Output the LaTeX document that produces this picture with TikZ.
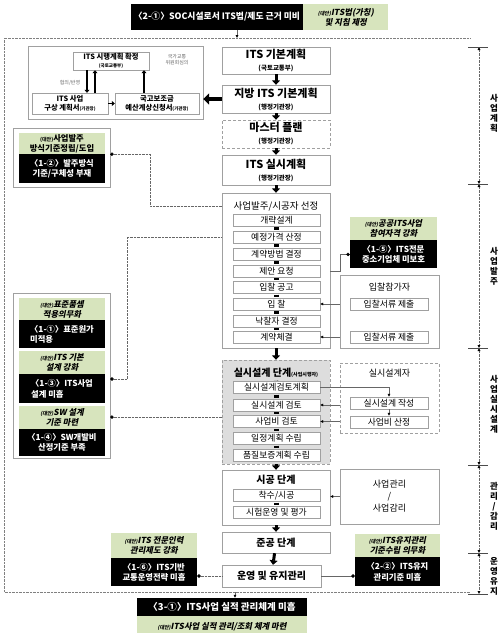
\documentclass[tikz,border=0pt]{standalone}
\usepackage{fontspec}
\setmainfont{Noto Sans CJK KR}
\newfontfamily\slfont{Noto Sans CJK KR}[FakeSlant=0.2]
\usetikzlibrary{arrows.meta,positioning}

\definecolor{edgegray}{HTML}{A0A0A0}
\definecolor{altgreen}{HTML}{D7E4BD}
\definecolor{shadegray}{HTML}{DDDDDD}

\newcommand{\sz}[2]{\fontsize{#1}{#2}\selectfont}
\newcommand{\alttag}{{\sz{5}{6}(대안)}}

\tikzset{
  box/.style={draw=edgegray, fill=white, align=center, inner sep=0pt, minimum width=108pt},
  panel/.style={draw=edgegray, inner sep=0pt},
  stepbox/.style={draw=edgegray, fill=white, inner sep=0pt, minimum width=87pt, minimum height=12pt, font=\sz{8.8}{9}},
  remedy/.style={fill=altgreen, align=center, inner sep=0pt, font=\slfont\bfseries\sz{8.3}{10}},
  issue/.style={fill=black, text=white, align=center, inner sep=0pt, font=\bfseries\sz{8.3}{10.5}},
  note/.style={align=center, text=black!60, font=\sz{5}{6}},
  phasetag/.style={align=center, font=\bfseries\sz{8.5}{10}},
  fat/.style={line width=3pt, -{Triangle[length=4.5pt,width=8pt]}},
  slim/.style={line width=1.8pt, -{Triangle[length=3pt,width=5pt]}},
  joint/.style={line width=5pt, shorten <=1pt, shorten >=1pt},
  link/.style={draw=black!60, -{Latex[length=3pt,width=3pt,color=black]}},
  tie/.style={draw=black!60, densely dotted, {Circle[length=3.5pt,color=black]}-},
  span/.style={draw=black!60, densely dotted, {Latex[length=3pt,width=3pt,color=black]}-{Latex[length=3pt,width=3pt,color=black]}}
}

\begin{document}
\begin{tikzpicture}[x=1pt, y=-1pt, font=\sz{8}{10}]
  \useasboundingbox (0,0) rectangle (504,633);
  \clip (0,0) rectangle (504,633);

  % outer frame
  \draw[black!50, densely dotted] (470,38) -- (4,38) -- (4,592) -- (470,592);

  % law issue on top
  \node[issue, font=\bfseries\sz{8.8}{10}, minimum width=172pt, minimum height=26pt] (law) at (217,17) {〈2-①〉SOC시설로서 ITS법/제도 근거 미비};
  \node[remedy, minimum width=85pt, minimum height=26pt, right=0pt of law] (lawfix) {\alttag ITS법(가칭)\\및 지침 제정};
  \coordinate (intop) at (237,38);
  \draw[link] (law.south -| intop) -- (intop);

  % yearly plan block
  \node[panel, minimum width=175pt, minimum height=73pt] (plan) at (115.5,82.5) {};
  \node[box, minimum width=76pt, minimum height=18pt, font=\bfseries\sz{7.3}{8}] (confirm) at (111,61) {ITS 시행계획 확정\\{\sz{4.5}{5}(국토교통부)}};
  \node[note] (council) at (177,60) {국가교통\\위원회심의};
  \node[note] (consult) at (70,83) {협의/반영};
  \node[box, minimum width=76pt, minimum height=21pt, font=\bfseries\sz{7.3}{9}] (idea) at (70,103.5) {ITS 사업\\구상 계획서{\sz{4.5}{5}(기관장)}};
  \node[box, minimum width=84pt, minimum height=21pt, font=\bfseries\sz{7.3}{9}] (subsidy) at (157,103.5) {국고보조금\\예산계상신청서{\sz{4.5}{5}(기관장)}};
  \draw[slim] ([xshift=-24pt]confirm.south) -- ([xshift=-24pt]confirm.south |- idea.north);
  \draw[slim] ([xshift=-16pt]confirm.south |- idea.north) -- ([xshift=-16pt]confirm.south);
  \draw[slim] ([xshift=-13pt]subsidy.north) -- ([xshift=-13pt]subsidy.north |- confirm.south);
  \draw[slim] (idea.east) -- (subsidy.west);

  % main flow
  \node[box, minimum height=27pt, font=\bfseries\sz{11}{12}] (basic) at (276,60.5) {ITS 기본계획\\{\sz{6.5}{7}(국토교통부)}};
  \node[box, minimum height=28pt, font=\bfseries\sz{11}{12}] (local) at (276,99) {지방 ITS 기본계획\\{\sz{6.5}{7}(행정기관장)}};
  \node[box, densely dashed, minimum height=28pt, font=\bfseries\sz{11}{12}] (master) at (276,134) {마스터 플랜\\{\sz{6.5}{7}(행정기관장)}};
  \node[box, minimum height=30pt, font=\bfseries\sz{11}{12}] (exec) at (276,170) {ITS 실시계획\\{\sz{6.5}{7}(행정기관장)}};
  \draw[fat] (basic) -- (local);
  \draw[fat] (local) -- (master);
  \draw[fat] (master) -- (exec);
  \draw[line width=4pt, -{Triangle[length=6pt,width=11pt]}] (local.west) -- (local.west -| plan.east);

  % ordering stage
  \node[panel, minimum width=108pt, minimum height=155pt] (order) at (276,270.5) {};
  \node[font=\sz{9.5}{10}] (ordertitle) at (276,206) {사업발주/시공자 선정};
  \node[stepbox] (s1) at (276.5,220) {개략설계};
  \node[stepbox] (s2) at (276.5,237) {예정가격 산정};
  \node[stepbox] (s3) at (276.5,254) {계약방법 결정};
  \node[stepbox] (s4) at (276.5,271) {제안 요청};
  \node[stepbox] (s5) at (276.5,287.5) {입찰 공고};
  \node[stepbox] (s6) at (276.5,304) {입 찰};
  \node[stepbox] (s7) at (276.5,321) {낙찰자 결정};
  \node[stepbox] (s8) at (276.5,337) {계약체결};
  \draw[fat] (exec) -- (order);
  \draw[joint] (s1) -- (s2);
  \draw[joint] (s2) -- (s3);
  \draw[joint] (s3) -- (s4);
  \draw[joint] (s4) -- (s5);
  \draw[joint] (s5) -- (s6);
  \draw[joint] (s6) -- (s7);
  \draw[joint] (s7) -- (s8);

  % bidders
  \node[panel, minimum width=99pt, minimum height=73pt] (bidder) at (389.5,311.5) {};
  \node[font=\sz{9}{10}] (biddertitle) at (389.5,287) {입찰참가자};
  \node[stepbox, minimum width=78pt] (b1) at (389,304.5) {입찰서류 제출};
  \node[stepbox, minimum width=78pt] (b2) at (389,337) {입찰서류 제출};
  \draw[link] (bidder.west |- s6) -- (s6.east);
  \draw[link] (bidder.west |- s8) -- (s8.east);

  % detailed design stage
  \node[panel, fill=shadegray, densely dashed, minimum width=108pt, minimum height=104pt] (design) at (276,412) {};
  \node[font=\bfseries\sz{10}{10}] (designtitle) at (276,373) {실시설계 단계{\sz{5}{6}(사업시행자)}};
  \node[stepbox] (d1) at (276.5,387.5) {실시설계검토계획};
  \node[stepbox] (d2) at (276.5,405) {실시설계 검토};
  \node[stepbox] (d3) at (276.5,421.5) {사업비 검토};
  \node[stepbox] (d4) at (276.5,438.5) {일정계획 수립};
  \node[stepbox] (d5) at (276.5,455) {품질보증계획 수립};
  \draw[fat] (order) -- (design);
  \draw[joint] (designtitle) -- (d1);
  \draw[joint] (d1) -- (d2);
  \draw[joint] (d2) -- (d3);
  \draw[joint] (d3) -- (d4);
  \draw[joint] (d4) -- (d5);

  % designers
  \node[panel, densely dashed, minimum width=99pt, minimum height=70pt] (designer) at (389.5,398) {};
  \node[font=\sz{9}{10}] (designertitle) at (389.5,373) {실시설계자};
  \node[stepbox, minimum width=78pt] (w1) at (389,403) {실시설계 작성};
  \node[stepbox, minimum width=78pt] (w2) at (389,422) {사업비 산정};
  \draw[link] (d1.east) -| (w1.north);
  \draw[link] (w1) -- (w2);
  \draw[link] (designer.west |- d2) -- (d2.east);
  \draw[link] (designer.west |- d3) -- (d3.east);

  % construction, completion, operation
  \node[panel, minimum width=108pt, minimum height=55pt] (build) at (276,497.5) {};
  \node[font=\bfseries\sz{10}{10}] (buildtitle) at (276,480) {시공 단계};
  \node[stepbox] (c1) at (276.5,495.5) {착수/시공};
  \node[stepbox] (c2) at (276.5,512.5) {시험운영 및 평가};
  \draw[fat] (design) -- (build);
  \draw[joint] (c1) -- (c2);
  \node[box, minimum height=21pt, font=\bfseries\sz{10}{10}] (done) at (276,542.5) {준공 단계};
  \node[box, minimum width=99pt, minimum height=22pt, font=\bfseries\sz{10}{10}] (oper) at (271.5,576) {운영 및 유지관리};
  \draw[fat] (build) -- (done);
  \draw[fat] (done) -- (oper);
  \node[box, minimum width=99pt, minimum height=55pt, font=\sz{9}{12}] (mgmt) at (389.5,496.5) {사업관리\\/\\사업감리};
  \draw[link] (mgmt.west) -- (mgmt.west -| build.east);

  % issues on the right
  \node[remedy, minimum width=87pt, minimum height=23pt] (r15) at (393.5,228.5) {\alttag 공공ITS사업\\참여자격 강화};
  \node[issue, minimum width=87pt, minimum height=28pt, below=0pt of r15] (i15) {〈1-⑤〉ITS전문\\중소기업체 미보호};
  \draw[tie, solid] (i15.west) -- ++(-10,0) |- (s4 -| order.east);
  \node[remedy, minimum width=85pt, minimum height=23pt] (r22) at (397.5,545.5) {\alttag ITS유지관리\\기준수립 의무화};
  \node[issue, minimum width=85pt, minimum height=29pt, below=0pt of r22] (i22) {〈2-②〉ITS유지\\관리기준 미흡};
  \draw[tie, solid] (oper.east -| i22.west) -- (oper.east);

  % issues on the left
  \node[panel, minimum width=97pt, minimum height=59pt] (c12) at (61.5,157.5) {};
  \node[remedy, font=\bfseries\sz{8.3}{10}, minimum width=86pt, minimum height=21pt] (r12) at (62,143.5) {\alttag 사업발주\\방식기준정립/도입};
  \node[issue, minimum width=86pt, minimum height=29pt, below=0pt of r12] (i12) {〈1-②〉발주방식\\기준/구체성 부재};
  \draw[tie] (c12.east |- i12.north) -- ++(40,0) |- (ordertitle -| order.west);

  \node[panel, minimum width=97pt, minimum height=165pt] (c1) at (61.5,375.5) {};
  \node[remedy, minimum width=86pt, minimum height=22pt] (r11) at (62,309) {\alttag 표준품셈\\적용의무화};
  \node[issue, align=left, minimum width=86pt, minimum height=28pt, below=0pt of r11] (i11) {〈1-①〉표준원가\\미적용};
  \node[remedy, minimum width=86pt, minimum height=23pt, below=2pt of i11] (r13) {\alttag ITS 기본\\설계 강화};
  \node[issue, align=left, minimum width=86pt, minimum height=29pt, below=0pt of r13] (i13) {〈1-③〉ITS사업\\설계 미흡};
  \node[remedy, minimum width=86pt, minimum height=23pt, below=2pt of i13] (r14) {\alttag SW 설계\\기준 마련};
  \node[issue, minimum width=86pt, minimum height=27pt, below=0pt of r14] (i14) {〈1-④〉SW개발비\\산정기준 부족};
  \path (c1.east |- i13.north) ++(0,5) coordinate (k13);
  \draw[tie] (k13) -- ++(17,0) |- (s2 -| order.west);
  \draw[tie] (c1.east |- r14) -- (r14 -| design.west);

  \node[remedy, minimum width=86pt, minimum height=25pt] (r16) at (154,545.5) {\alttag ITS 전문인력\\관리제도 강화};
  \node[issue, minimum width=86pt, minimum height=28pt, below=0pt of r16] (i16) {〈1-⑥〉ITS기반\\교통운영전략 미흡};
  \draw[tie] (i16.east |- oper) -- (oper.west);

  % record issue below
  \node[issue, font=\bfseries\sz{9.5}{10}, minimum width=170pt, minimum height=18pt] (i31) at (222,607) {〈3-①〉ITS사업 실적 관리체계 미흡};
  \node[remedy, minimum width=170pt, minimum height=21pt, below=0pt of i31] (r31) {\alttag ITS사업 실적 관리/조회 체계 마련};
  \coordinate (inbot) at (235,592);
  \draw[link] (inbot) -- (inbot |- i31.north);

  % phase bracket
  \coordinate (t0) at (479,47);
  \coordinate (t1) at (479,184);
  \coordinate (t2) at (479,348);
  \coordinate (t3) at (479,465);
  \coordinate (t4) at (479,553);
  \coordinate (t5) at (479,594);
  \draw[span] (t0) -- (t1);
  \draw[span] (t1) -- (t2);
  \draw[span] (t2) -- (t3);
  \draw[span] (t3) -- (t4);
  \draw[span] (t4) -- (t5);
  \draw[black!70] ([xshift=-11pt]t0) -- ([xshift=9pt]t0);
  \draw[black!70] ([xshift=-11pt]t1) -- ([xshift=9pt]t1);
  \draw[black!70] ([xshift=-11pt]t2) -- ([xshift=9pt]t2);
  \draw[black!70] ([xshift=-11pt]t3) -- ([xshift=9pt]t3);
  \draw[black!70] ([xshift=-11pt]t4) -- ([xshift=9pt]t4);
  \draw[black!70] ([xshift=-11pt]t5) -- ([xshift=9pt]t5);
  \node[phasetag] (ph1) at (494,113) {사\\업\\계\\획};
  \node[phasetag] (ph2) at (494,266) {사\\업\\발\\주};
  \node[phasetag] (ph3) at (494,404) {사\\업\\실\\시\\설\\계};
  \node[phasetag] (ph4) at (494,506) {관\\리\\/\\감\\리};
  \node[phasetag] (ph5) at (494,576) {운\\영\\유\\지};
\end{tikzpicture}
\end{document}
